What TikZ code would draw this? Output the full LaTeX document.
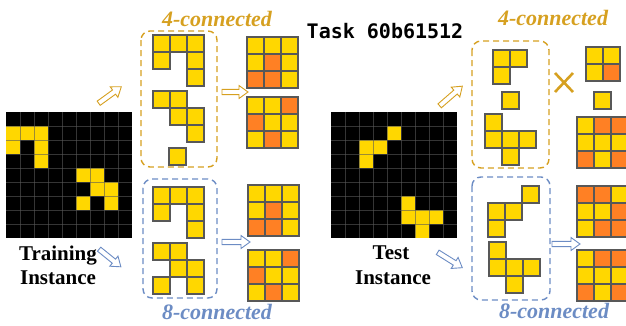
\documentclass[tikz,border=0pt]{standalone}
\usepackage{fontspec}
\setmainfont{Liberation Serif}
\newfontfamily\titlefont{DejaVu Sans Mono}

\definecolor{cY}{RGB}{255,215,0}
\definecolor{cO}{RGB}{255,128,36}
\definecolor{gold4}{RGB}{214,160,32}
\definecolor{blue8}{RGB}{108,140,196}
\definecolor{cellline}{RGB}{88,88,88}

% coloured output grid: x, y, columns, colours
\newcommand{\colgrid}[4]{%
  \foreach \cc [count=\k from 0] in {#4} {
    \pgfmathtruncatemacro{\cx}{mod(\k,#3)}
    \pgfmathtruncatemacro{\cy}{div(\k,#3)}
    \draw[cellbox, fill=c\cc] ({#1+17*\cx},{#2+17*\cy}) rectangle +(17,17);
  }}
% one object: x, y, col/row list
\newcommand{\shapecells}[3]{%
  \foreach \cx/\cy in {#3}
    \draw[cellbox, fill=cY] ({#1+17*\cx},{#2+17*\cy}) rectangle +(17,17);}
% 9x9 input grid: x, y, col/row list
\newcommand{\blackgrid}[3]{%
  \fill[black] (#1,#2) rectangle +(126,126);
  \foreach \cx/\cy in {#3}
    \fill[cY] ({#1+14*\cx},{#2+14*\cy}) rectangle +(14,14);
  \foreach \i in {1,...,8} {
    \draw[gridline] ({#1+14*\i},#2) -- +(0,126);
    \draw[gridline] (#1,{#2+14*\i}) -- +(126,0);
  }}
% hollow block arrow: colour, x, y, angle, length
\newcommand{\hollowarrow}[5]{%
  \begin{scope}[shift={(#2,#3)}, rotate=#4]
    \draw[#1, line width=0.9, fill=white, line join=miter]
      ({-#5/2},-2.6) -- ({#5/2-9},-2.6) -- ({#5/2-9},-6.5) -- ({#5/2},0)
      -- ({#5/2-9},6.5) -- ({#5/2-9},2.6) -- ({-#5/2},2.6) -- cycle;
  \end{scope}}

\begin{document}
\begin{tikzpicture}[x=1pt, y=-1pt,
    cellbox/.style={draw=cellline, line width=1.3},
    gridline/.style={draw=gray!70!black, line width=0.6, opacity=0.6},
    dashbox/.style={line width=1.4, dash pattern=on 6 off 4, rounded corners=9},
    lbl/.style={font=\fontsize{22}{22}\selectfont\bfseries\itshape, anchor=base},
    inst/.style={font=\fontsize{21}{21}\selectfont\bfseries, anchor=base}]
  \clip (0,0) rectangle (626,325);

  % Title
  \node[font=\titlefont\fontsize{20}{20}\selectfont\bfseries, anchor=base] (title) at (385,38) {Task 60b61512};

  % Training instance
  \blackgrid{6}{112}{0/1,1/1,2/1,0/2,2/2,2/3,5/4,6/4,6/5,7/5,5/6,7/6}
  \node[inst] (train) at (58,260) {Training};
  \node[inst] (traini) at (58,284) {Instance};

  % 4-connected objects (training)
  \draw[dashbox, gold4] (141,31) rectangle (217,167);
  \shapecells{153}{35}{0/0,1/0,2/0,0/1,2/1,2/2}
  \shapecells{153}{91}{0/0,1/0,1/1,2/1,2/2}
  \shapecells{169}{148}{0/0}
  \node[lbl, text=gold4] (fourL) at (217,26) {4-connected};

  % 8-connected objects (training)
  \draw[dashbox, blue8] (143,179) rectangle (217,298);
  \shapecells{153}{187}{0/0,1/0,2/0,0/1,2/1,2/2}
  \shapecells{153}{243}{0/0,1/0,1/1,2/1,0/2,2/2}
  \node[lbl, text=blue8] (eightL) at (217,319) {8-connected};

  % outputs (training)
  \colgrid{247}{37}{3}{Y,Y,Y,Y,O,Y,O,O,Y}
  \colgrid{247}{97}{3}{Y,Y,O,O,Y,Y,Y,O,Y}
  \colgrid{248}{185}{3}{Y,Y,Y,Y,O,Y,O,O,Y}
  \colgrid{248}{250}{3}{Y,Y,O,O,Y,Y,Y,O,Y}

  % arrows (training)
  \hollowarrow{gold4}{110}{95}{36}{28}
  \hollowarrow{blue8}{110}{258}{-39}{28}
  \hollowarrow{gold4}{235}{92}{0}{26}
  \hollowarrow{blue8}{236}{242}{0}{28}

  % Test instance
  \blackgrid{331}{112}{4/1,2/2,3/2,2/3,5/6,5/7,6/7,7/7,6/8}
  \node[inst] (test) at (391,259) {Test};
  \node[inst] (testi) at (393,284) {Instance};

  % 4-connected objects (test)
  \draw[dashbox, gold4] (472,41) rectangle (549,168);
  \shapecells{493}{50}{0/0,1/0,0/1}
  \shapecells{502}{92}{0/0}
  \shapecells{485}{114}{0/0,0/1,1/1,2/1,1/2}
  \node[lbl, text=gold4] (fourR) at (553,25) {4-connected};

  % 8-connected objects (test)
  \draw[dashbox, blue8] (472,177) rectangle (550,300);
  \shapecells{488}{186}{2/0,0/1,1/1,0/2}
  \shapecells{489}{242}{0/0,0/1,1/1,2/1,1/2}
  \node[lbl, text=blue8] (eightR) at (554,318) {8-connected};

  % outputs (test)
  \draw[gold4, line width=2.6] (555,73) -- (573,92) (555,92) -- (573,73);
  \colgrid{586}{47}{2}{Y,Y,Y,O}
  \colgrid{594}{92}{1}{Y}
  \colgrid{577}{117}{3}{Y,O,O,Y,Y,Y,O,Y,O}
  \colgrid{577}{186}{3}{O,O,Y,Y,Y,O,Y,O,O}
  \colgrid{577}{250}{3}{Y,O,O,Y,Y,Y,O,Y,O}

  % arrows (test)
  \hollowarrow{gold4}{451}{96}{41}{30}
  \hollowarrow{blue8}{450}{260}{-32}{29}
  \hollowarrow{blue8}{566}{244}{0}{28}
\end{tikzpicture}
\end{document}
